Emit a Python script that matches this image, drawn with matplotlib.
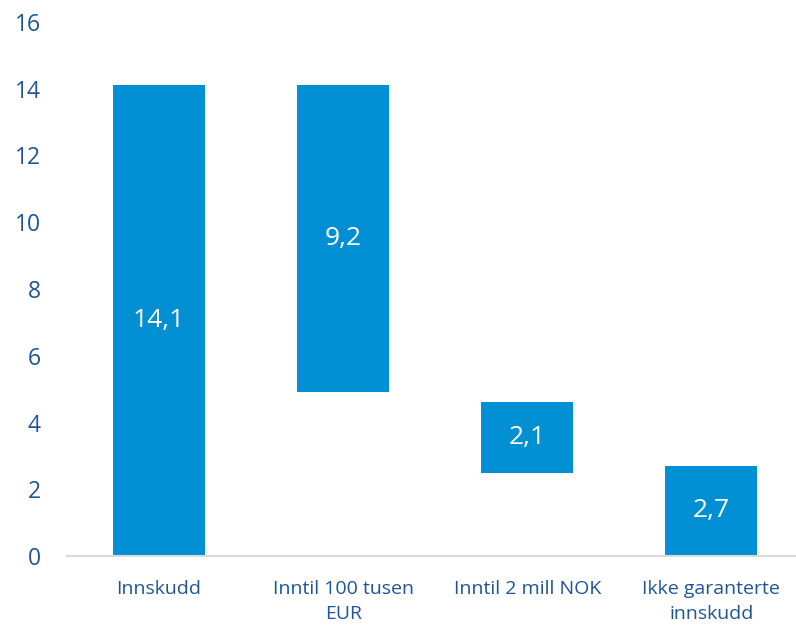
import matplotlib.pyplot as plt

categories = ['Innskudd', 'Inntil 100 tusen\nEUR', 'Inntil 2 mill NOK', 'Ikke garanterte\ninnskudd']
values = [14.1, 9.2, 2.1, 2.7]
bottoms = [0, 4.9, 2.5, 0]
labels = ['14,1', '9,2', '2,1', '2,7']

bar_color = '#008fd3'
text_color = '#1f5597'

plt.rcParams['font.family'] = ['Open Sans', 'DejaVu Sans']

fig = plt.figure(figsize=(7.96, 6.25), dpi=100)
ax = fig.add_axes([67 / 796, 69 / 625, 1 - 67 / 796, (556 - 22) / 625])

x = list(range(len(categories)))
ax.bar(x, values, bottom=bottoms, width=0.5, color=bar_color)

for xi, v, b, lab in zip(x, values, bottoms, labels):
    ax.text(xi, b + v / 2, lab, ha='center', va='center', color='white', fontsize=19)

ax.set_xlim(-0.5, 3.46)
ax.set_ylim(0, 16)
ax.set_yticks(range(0, 17, 2))
ax.set_xticks(x)
ax.set_xticklabels(categories, color=text_color, fontsize=14, linespacing=1.55)
ax.tick_params(axis='y', length=0, pad=19, labelsize=16.5, labelcolor=text_color)
ax.tick_params(axis='x', length=0, pad=17)

for side in ['top', 'right', 'left']:
    ax.spines[side].set_visible(False)
ax.spines['bottom'].set_color('#d9d9d9')
ax.spines['bottom'].set_linewidth(1.5)

fig.savefig('out.png', dpi=100)
